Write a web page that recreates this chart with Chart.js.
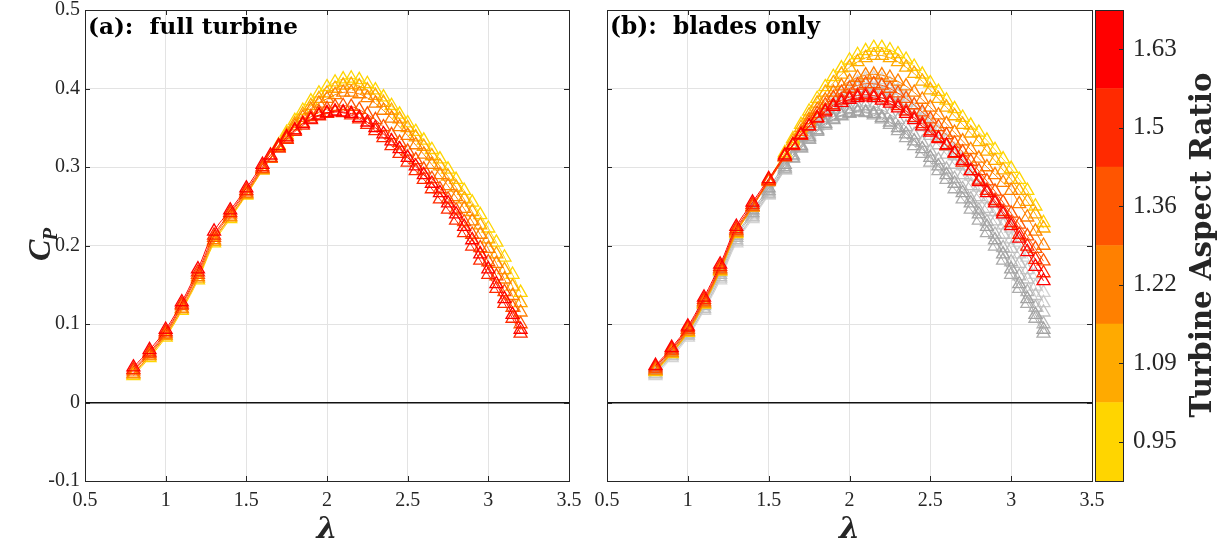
<!DOCTYPE html>
<html>
<head>
<meta charset="utf-8">
<script src="https://cdn.jsdelivr.net/npm/chart.js@4.4.1/dist/chart.umd.min.js"></script>
<style>
  html, body { margin: 0; padding: 0; background: #fff; }
  body { width: 1230px; height: 543px; position: relative; overflow: hidden; }
  canvas { position: absolute; top: 0; }
  #panelA { left: 0; }
  #panelB { left: 590px; }
  #colorbar { left: 1085px; }
</style>
</head>
<body>
<canvas id="panelA" width="590" height="543"></canvas>
<canvas id="panelB" width="520" height="543"></canvas>
<canvas id="colorbar" width="145" height="543"></canvas>
<script>
// tip speed ratio values shared by all runs
const LAMBDA = [0.8, 0.9, 1.0, 1.1, 1.2, 1.3, 1.4, 1.5, 1.6,
  1.65, 1.7, 1.75, 1.8, 1.85, 1.9, 1.95, 2.0,
  2.05, 2.1, 2.15, 2.2, 2.25, 2.3, 2.35, 2.4,
  2.45, 2.5, 2.55, 2.6, 2.65, 2.7, 2.75, 2.8,
  2.85, 2.9, 2.95, 3.0, 3.05, 3.1, 3.15, 3.2];

// turbine aspect ratios (colorbar ticks, bottom to top)
const AR_LABELS = ['0.95', '1.09', '1.22', '1.36', '1.5', '1.63'];

// (a) full turbine, Cp per aspect ratio
const full095 = [.034, .057, .083, .117, .156, .203, .234, .264, .296, .312, .328, .344, .359, .372, .384, .394, .402, .408, .412, .413, .411, .406, .398, .389, .378, .367, .356, .345, .334, .322, .310, .297, .284, .270, .255, .239, .222, .204, .185, .163, .140];
const full109 = [.036, .059, .085, .119, .158, .205, .236, .265, .296, .311, .326, .341, .355, .367, .378, .387, .394, .400, .404, .405, .403, .398, .391, .382, .372, .361, .350, .338, .326, .314, .301, .288, .274, .259, .243, .226, .208, .189, .169, .148, .127];
const full122 = [.037, .060, .086, .120, .160, .207, .237, .266, .297, .311, .325, .339, .352, .363, .373, .381, .387, .392, .395, .395, .393, .388, .381, .372, .362, .351, .340, .328, .316, .303, .290, .276, .262, .247, .231, .214, .196, .177, .157, .136, .115];
const full136 = [.040, .062, .088, .123, .163, .210, .240, .268, .298, .311, .324, .336, .347, .356, .364, .370, .374, .377, .378, .377, .373, .367, .360, .351, .341, .331, .320, .309, .297, .285, .272, .259, .245, .230, .214, .197, .179, .161, .141, .121, .100];
const full150 = [.042, .064, .090, .125, .166, .213, .242, .270, .300, .312, .324, .335, .345, .353, .360, .365, .368, .370, .369, .366, .361, .354, .346, .337, .327, .317, .306, .295, .284, .272, .259, .246, .232, .216, .199, .181, .163, .145, .126, .107, .088];
const full163 = [.045, .067, .093, .128, .170, .218, .245, .273, .303, .315, .327, .338, .347, .355, .361, .366, .369, .371, .370, .368, .363, .357, .350, .342, .333, .323, .312, .301, .290, .279, .267, .254, .240, .224, .207, .189, .170, .151, .132, .112, .093];

// (b) blades only, Cp per aspect ratio
const blades095 = [.039, .062, .089, .125, .167, .215, .249, .284, .318, .336, .354, .371, .387, .402, .415, .426, .436, .443, .448, .452, .452, .449, .444, .437, .428, .418, .407, .396, .385, .374, .363, .353, .344, .334, .322, .310, .298, .284, .270, .250, .229];
const blades109 = [.040, .063, .090, .126, .168, .216, .249, .283, .316, .333, .350, .366, .381, .395, .407, .418, .427, .434, .439, .442, .442, .439, .434, .427, .419, .409, .398, .387, .376, .365, .354, .343, .332, .320, .308, .296, .284, .270, .256, .240, .222];
const blades122 = [.041, .064, .091, .127, .169, .217, .249, .281, .313, .329, .345, .360, .373, .385, .395, .403, .409, .414, .417, .418, .417, .414, .409, .403, .395, .386, .376, .366, .355, .344, .333, .322, .311, .300, .290, .280, .270, .253, .236, .218, .200];
const blades136 = [.043, .066, .093, .129, .171, .219, .250, .282, .313, .328, .342, .356, .368, .379, .388, .395, .400, .404, .406, .406, .404, .400, .394, .387, .379, .370, .361, .351, .341, .330, .319, .307, .295, .282, .269, .255, .241, .227, .212, .196, .180];
const blades150 = [.045, .068, .095, .131, .173, .221, .252, .283, .313, .327, .340, .352, .363, .372, .379, .385, .389, .391, .392, .391, .388, .384, .378, .371, .363, .355, .346, .337, .327, .317, .306, .295, .283, .270, .257, .243, .229, .214, .199, .182, .165];
const blades163 = [.047, .070, .097, .134, .176, .224, .255, .285, .315, .328, .341, .352, .362, .370, .377, .382, .386, .388, .389, .388, .385, .381, .375, .368, .360, .352, .344, .336, .328, .318, .308, .295, .281, .267, .254, .240, .225, .209, .192, .173, .155];

const AR_COLORS = ['#FFD500', '#FFAA00', '#FF8000', '#FF5500', '#FF2A00', '#FF0000'];
const GRAYS = ['#d4d4d4', '#cbcbcb', '#c0c0c0', '#b6b6b6', '#acacac', '#a2a2a2'];

const fullRuns = [full095, full109, full122, full136, full150, full163];
const bladeRuns = [blades095, blades109, blades122, blades136, blades150, blades163];

const SERIF = "'Liberation Serif', 'DejaVu Serif', serif";
const WIDE_SERIF = "'DejaVu Serif', serif";
const INK = '#262626';

function makeRun(cp, color) {
    return {
        data: LAMBDA.map((l, i) => ({ x: l, y: cp[i] })),
        borderColor: color,
        borderWidth: 1,
        pointStyle: 'triangle',
        pointRadius: 7.5,
        pointBorderWidth: 1.3,
        pointBorderColor: color,
        pointBackgroundColor: 'rgba(0,0,0,0)',
        tension: 0.4,
        fill: false
    };
}

// font size that makes the text fill a given width
function fitFont(ctx, text, style, family, width) {
    ctx.font = style + ' 100px ' + family;
    return 100 * width / ctx.measureText(text).width;
}

// tick labels like 0.5, 1, 1.5 and -0.1, 0, 0.1
const tickText = v => String(Math.round(v * 10) / 10);
const isZero = v => Math.abs(v) < 1e-9;

// box, inside ticks, panel title and axis labels
const framePlugin = {
    id: 'frame',
    afterDraw(chart, args, opts) {
        const { ctx, chartArea: a, scales } = chart;
        ctx.save();
        ctx.strokeStyle = INK;
        ctx.lineWidth = 1;
        ctx.beginPath();
        scales.x.ticks.forEach(t => {
            const px = Math.round(scales.x.getPixelForValue(t.value)) + 0.5;
            ctx.moveTo(px, a.bottom); ctx.lineTo(px, a.bottom - 5);
            ctx.moveTo(px, a.top); ctx.lineTo(px, a.top + 5);
        });
        scales.y.ticks.forEach(t => {
            const py = Math.round(scales.y.getPixelForValue(t.value)) + 0.5;
            ctx.moveTo(a.left, py); ctx.lineTo(a.left + 5, py);
            ctx.moveTo(a.right, py); ctx.lineTo(a.right - 5, py);
        });
        ctx.stroke();
        ctx.strokeRect(Math.round(a.left) + 0.5, Math.round(a.top) + 0.5,
            Math.round(a.right - a.left), Math.round(a.bottom - a.top));

        // panel title
        ctx.fillStyle = '#000';
        ctx.textBaseline = 'alphabetic';
        ctx.textAlign = 'left';
        const ts = fitFont(ctx, opts.title, 'bold', WIDE_SERIF, opts.titleWidth);
        ctx.font = 'bold ' + ts + 'px ' + WIDE_SERIF;
        ctx.fillText(opts.title, a.left + 3, a.top + 24);

        // lambda label
        ctx.fillStyle = INK;
        ctx.textAlign = 'center';
        ctx.font = 'bold italic 30px ' + WIDE_SERIF;
        ctx.fillText('\u03bb', (a.left + a.right) / 2, 538);

        if (opts.yLabel) {
            ctx.save();
            ctx.translate(40, 244);
            ctx.rotate(-Math.PI / 2);
            ctx.textAlign = 'left';
            ctx.font = 'bold italic 32px ' + SERIF;
            const wc = ctx.measureText('C').width;
            ctx.font = 'bold italic 21px ' + SERIF;
            const wp = ctx.measureText('P').width;
            const x0 = -(wc + wp) / 2;
            ctx.font = 'bold italic 32px ' + SERIF;
            ctx.fillText('C', x0, 10);
            ctx.font = 'bold italic 21px ' + SERIF;
            ctx.fillText('P', x0 + wc - 1, 17);
            ctx.restore();
        }
        ctx.restore();
    }
};

function panelConfig(datasets, o) {
    return {
        type: 'line',
        data: { datasets: datasets },
        options: {
            responsive: false,
            animation: false,
            layout: { padding: { left: 0, right: o.padRight, top: 10, bottom: 0 } },
            plugins: {
                legend: { display: false },
                tooltip: { enabled: false },
                frame: { title: o.title, titleWidth: o.titleWidth, yLabel: o.yLabel }
            },
            scales: {
                x: {
                    type: 'linear',
                    min: 0.5,
                    max: 3.5,
                    ticks: { stepSize: 0.5, padding: 8, color: INK, font: { family: SERIF, size: 20 }, callback: tickText },
                    grid: { color: '#e3e3e3', drawTicks: false },
                    border: { display: false },
                    afterFit: s => { s.height = 62; s.paddingLeft = 0; s.paddingRight = 0; }
                },
                y: {
                    min: -0.1,
                    max: 0.5,
                    ticks: { stepSize: 0.1, padding: 5, display: o.yLabel, color: INK, font: { family: SERIF, size: 20 }, callback: tickText },
                    grid: {
                        color: c => isZero(c.tick.value) ? '#111' : '#e3e3e3',
                        lineWidth: c => isZero(c.tick.value) ? 1.4 : 1,
                        drawTicks: false
                    },
                    border: { display: false },
                    afterFit: s => { s.width = o.yWidth; s.paddingTop = 0; s.paddingBottom = 0; }
                }
            }
        },
        plugins: [framePlugin]
    };
}

// red on top: later aspect ratios first in the list
const setsA = fullRuns.map((cp, i) => makeRun(cp, AR_COLORS[i])).reverse();
const setsB = bladeRuns.map((cp, i) => makeRun(cp, AR_COLORS[i])).reverse()
    .concat(fullRuns.map((cp, i) => makeRun(cp, GRAYS[i])).reverse());

new Chart(document.getElementById('panelA'), panelConfig(setsA, {
    padRight: 21, yWidth: 85, yLabel: true, title: '(a):  full turbine', titleWidth: 210
}));
new Chart(document.getElementById('panelB'), panelConfig(setsB, {
    padRight: 18, yWidth: 17, yLabel: false, title: '(b):  blades only', titleWidth: 210
}));

// colorbar as a stacked single bar
const colorbarPlugin = {
    id: 'cbframe',
    afterDraw(chart) {
        const { ctx, chartArea: a, scales } = chart;
        ctx.save();
        ctx.strokeStyle = INK;
        ctx.lineWidth = 1;
        ctx.beginPath();
        scales.y.ticks.forEach(t => {
            const py = Math.round(scales.y.getPixelForValue(t.value)) + 0.5;
            ctx.moveTo(a.right, py); ctx.lineTo(a.right - 4, py);
        });
        ctx.stroke();
        ctx.strokeRect(Math.round(a.left) + 0.5, Math.round(a.top) + 0.5,
            Math.round(a.right - a.left), Math.round(a.bottom - a.top));

        const text = 'Turbine Aspect Ratio';
        const fs = fitFont(ctx, text, 'bold', WIDE_SERIF, 345);
        ctx.translate(118, 245);
        ctx.rotate(-Math.PI / 2);
        ctx.fillStyle = INK;
        ctx.textAlign = 'center';
        ctx.textBaseline = 'middle';
        ctx.font = 'bold ' + fs + 'px ' + WIDE_SERIF;
        ctx.fillText(text, 0, 0);
        ctx.restore();
    }
};

new Chart(document.getElementById('colorbar'), {
    type: 'bar',
    data: {
        labels: ['AR'],
        datasets: AR_COLORS.map(c => ({
            data: [1],
            backgroundColor: c,
            borderWidth: 0,
            barPercentage: 1,
            categoryPercentage: 1
        }))
    },
    options: {
        responsive: false,
        animation: false,
        layout: { padding: { left: 10, right: 0, top: 10, bottom: 62 } },
        plugins: { legend: { display: false }, tooltip: { enabled: false } },
        scales: {
            x: { display: false, stacked: true },
            y: {
                stacked: true,
                position: 'right',
                min: 0,
                max: 6,
                afterBuildTicks: s => { s.ticks = AR_LABELS.map((l, i) => ({ value: i + 0.5 })); },
                ticks: {
                    padding: 10,
                    color: INK,
                    font: { family: SERIF, size: 25 },
                    callback: (v, i) => AR_LABELS[i]
                },
                grid: { display: false, drawTicks: false },
                border: { display: false },
                afterFit: s => { s.width = 107; s.paddingTop = 0; s.paddingBottom = 0; }
            }
        }
    },
    plugins: [colorbarPlugin]
});
</script>
</body>
</html>
